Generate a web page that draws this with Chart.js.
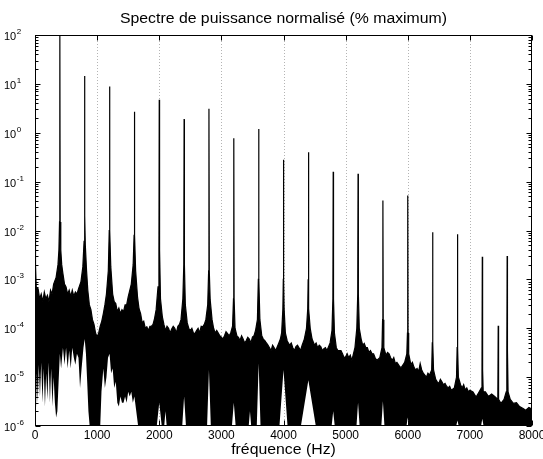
<!DOCTYPE html>
<html><head><meta charset="utf-8">
<script src="https://cdn.jsdelivr.net/npm/chart.js@4"></script>
<style>html,body{margin:0;padding:0;background:#fff}canvas{display:block}</style>
</head><body>
<canvas id="c" width="543" height="459"></canvas>
<script>
const chartTitle = "Spectre de puissance normalisé (% maximum)";
const xAxisLabel = "fréquence (Hz)";
const xTickValues = [0,1000,2000,3000,4000,5000,6000,7000,8000];
const yTickExponents = [2,1,0,-1,-2,-3,-4,-5,-6];

// harmonic peaks (Hz, % of maximum)
const harmonicHz  = [400,800,1200,1600,2000,2400,2800,3200,3600,4000,4400,4800,5200,5600,6000,6400,6800,7200,7456,7600];
const harmonicPct = [100,14.5,8.8,2.7,4.75,1.9,3.1,0.77,1.2,0.28,0.4,0.16,0.145,0.041,0.052,0.0092,0.0084,0.0029,0.000113,0.003];

// upper envelope of the dense spectrum (Hz, %)
const upperHz = [0,8,20,50,75,100,125,150,175,200,225,250,275,300,340,370,385,395,
405,415,430,450,475,500,525,550,575,600,625,650,675,700,740,770,790,797,
803,810,830,850,875,900,925,950,975,1000,1025,1050,1075,1100,1125,1150,1180,1195,
1205,1220,1250,1275,1300,1325,1350,1375,1400,1425,1450,1475,1500,1550,1580,1595,
1605,1620,1650,1675,1700,1725,1750,1775,1800,1825,1850,1875,1900,1925,1950,1980,1995,
2005,2020,2050,2075,2100,2125,2150,2175,2200,2225,2250,2275,2300,2325,2350,2380,2395,
2405,2420,2450,2475,2500,2525,2550,2575,2600,2625,2650,2675,2700,2725,2750,2780,2795,
2805,2820,2850,2875,2900,2925,2950,2975,3000,3025,3050,3075,3100,3125,3150,3180,3195,
3205,3220,3250,3275,3300,3325,3350,3375,3400,3425,3450,3475,3500,3525,3550,3580,3595,
3605,3620,3650,3675,3700,3725,3750,3775,3800,3825,3850,3875,3900,3925,3950,3970,3990,3997,
4003,4010,4030,4060,4100,4125,4150,4175,4200,4225,4250,4275,4300,4335,4370,4390,4397,
4403,4410,4430,4460,4500,4525,4550,4575,4600,4625,4650,4675,4700,4750,4780,4795,
4805,4820,4850,4875,4900,4925,4950,4975,5000,5025,5050,5075,5100,5150,5180,5195,
5205,5220,5250,5275,5300,5325,5350,5375,5400,5425,5450,5475,5500,5550,5585,5595,
5605,5615,5650,5675,5700,5725,5750,5775,5800,5825,5850,5875,5900,5950,5985,5995,
6005,6015,6050,6075,6100,6125,6150,6175,6200,6225,6250,6275,6300,6325,6350,6385,6395,
6405,6415,6450,6475,6500,6525,6550,6575,6600,6625,6650,6675,6700,6750,6785,6795,
6805,6815,6850,6875,6900,6925,6950,6975,7000,7050,7100,7150,7185,7195,
7205,7215,7250,7300,7350,7400,7450,
7462,7500,7550,7585,7595,
7605,7615,7650,7700,7750,7800,7850,7900,7950,8000];
const upperPct = [0.03,2e-3,7e-4,6.4e-4,4e-4,5e-4,3.5e-4,5.5e-4,4e-4,4.7e-4,3.5e-4,6e-4,5e-4,8e-4,1.1e-3,2e-3,4e-3,0.015,
0.015,4e-3,2e-3,1.3e-3,8e-4,7e-4,5e-4,6e-4,4.5e-4,6e-4,4.5e-4,5.5e-4,5e-4,6.4e-4,9e-4,1.8e-3,6e-3,0.02,
0.02,5e-3,1.5e-3,6e-4,3e-4,2.4e-4,1.5e-4,1.2e-4,8e-5,6.6e-5,8e-5,1.1e-4,1.4e-4,2e-4,3e-4,5e-4,1.5e-3,0.01,
0.01,1.8e-3,5e-4,3.5e-4,3.2e-4,2.2e-4,2.6e-4,2e-4,2.4e-4,2.2e-4,3e-4,3e-4,4.4e-4,8e-4,2e-3,8e-3,
8e-3,1.5e-3,4.4e-4,2.5e-4,2e-4,1.3e-4,1.4e-4,1e-4,1.07e-4,9e-5,1.1e-4,1.1e-4,1.2e-4,1.6e-4,2.4e-4,7e-4,4e-3,
4e-3,4e-4,1.7e-4,1.2e-4,9e-5,1.1e-4,1e-4,8e-5,9.6e-5,1.1e-4,1e-4,8e-5,1.1e-4,1.2e-4,1.5e-4,4e-4,2e-3,
2e-3,3e-4,1.3e-4,1e-4,9e-5,1e-4,8e-5,7.8e-5,9e-5,1e-4,8e-5,1.1e-4,1.07e-4,1.2e-4,1.5e-4,3e-4,1.5e-3,
1.5e-3,3.8e-4,1.5e-4,1e-4,8e-5,9e-5,8e-5,7e-5,6.6e-5,6e-5,7e-5,8.5e-5,7.8e-5,7e-5,8e-5,1.1e-4,4e-4,
4e-4,1e-4,7e-5,6.5e-5,5.6e-5,7e-5,6e-5,5e-5,5.6e-5,6.5e-5,6e-5,5e-5,6.6e-5,7e-5,9e-5,1.5e-4,1e-3,
1e-3,1.5e-4,7e-5,6e-5,5.6e-5,5e-5,4.5e-5,4e-5,3.5e-5,4.5e-5,4e-5,3.5e-5,4.2e-5,5e-5,6e-5,8e-5,2.5e-4,1e-3,
1e-3,2.5e-4,8e-5,5.5e-5,4.5e-5,5e-5,4e-5,3.5e-5,4.2e-5,4.5e-5,4e-5,3.5e-5,4.5e-5,6e-5,1e-4,2.5e-4,1e-3,
1e-3,2.5e-4,1e-4,6e-5,4.5e-5,5e-5,4e-5,4.5e-5,4.2e-5,3.5e-5,3.8e-5,4e-5,3.5e-5,5e-5,9e-5,4e-4,
4e-4,8e-5,4e-5,3.5e-5,3.5e-5,3.5e-5,3e-5,2.5e-5,2.6e-5,3e-5,2.5e-5,2.8e-5,2.2e-5,4e-5,1e-4,5e-4,
5e-4,1e-4,6e-5,4.5e-5,4.9e-5,4e-5,4e-5,3.2e-5,3.5e-5,3e-5,3e-5,2.5e-5,2.2e-5,2.5e-5,4e-5,1.5e-4,
1.5e-4,4e-5,2.8e-5,3.2e-5,3e-5,2.5e-5,2.2e-5,2.5e-5,1.9e-5,2e-5,1.8e-5,1.6e-5,1.6e-5,2e-5,3e-5,8e-5,
8e-5,3e-5,1.8e-5,2e-5,1.6e-5,1.4e-5,1.5e-5,1.3e-5,1.9e-5,1.4e-5,1.2e-5,1.1e-5,1e-5,1.2e-5,1.1e-5,1.4e-5,5e-5,
5e-5,1.4e-5,9e-6,8e-6,7.4e-6,9e-6,8e-6,7e-6,7.4e-6,6.5e-6,6e-6,6.5e-6,5.4e-6,6e-6,1e-5,4e-5,
4e-5,1e-5,7e-6,6e-6,7e-6,5.5e-6,6e-6,5e-6,5.4e-6,5e-6,3.9e-6,5e-6,6e-6,1.4e-5,
1.4e-5,5e-6,5e-6,4e-6,4.5e-6,4e-6,3.5e-6,
3.5e-6,2.9e-6,3.5e-6,5e-6,3.5e-5,
3.5e-5,5e-6,3.5e-6,2.9e-6,3e-6,2.5e-6,2.3e-6,2.1e-6,2.4e-6,2.2e-6];

// lower envelope of the dense spectrum (Hz, %)
const lowerHz = [0,15,30,45,60,80,100,120,140,160,180,200,220,240,260,280,300,320,340,360,380,
400,420,450,475,500,525,550,575,600,625,650,675,700,725,750,780,800,820,840,860,880,
1050,1070,1100,1125,1150,1175,1200,1225,1250,1275,1300,1325,1350,1375,1400,1425,1450,1475,1500,1525,1550,1575,1600,1630,1660,
1960,2000,2040,2080,2100,2120,2370,2400,2430,2770,2800,2830,3170,3200,3230,3440,3460,3480,3570,3600,3630,
3935,4000,4065,4280,4400,4520,4775,4800,4825,5175,5200,5225,5575,5600,5625,5980,6000,6020,
6780,6800,6820,7180,7200,7220,8000];
const lowerPct = [1.5e-6,2e-6,1.2e-5,3e-6,1.8e-5,4e-6,2e-5,3e-6,1.5e-5,2.5e-6,1.2e-5,3.5e-6,2e-5,3e-6,1.5e-5,2.5e-6,1e-5,3e-6,1.5e-6,2e-6,8e-6,
3e-5,1.5e-5,4e-5,1.8e-5,4e-5,1.5e-5,3.5e-5,1.5e-5,4e-5,2.5e-5,1.8e-5,3e-5,2.5e-5,6e-6,1.5e-5,4e-5,6e-5,3e-5,8e-6,2e-6,1e-6,
1e-6,5e-6,1.5e-5,6e-6,1e-5,2.5e-5,3e-5,1.2e-5,1.5e-5,6e-6,8e-6,3e-6,2.5e-6,4e-6,3e-6,3e-6,4e-6,3e-6,5e-6,4e-6,5e-6,3e-6,4e-6,2e-6,1e-6,
1e-6,3e-6,1e-6,1e-6,2e-6,1e-6,1e-6,4e-6,1e-6,1e-6,1.4e-5,1e-6,1e-6,3e-6,1e-6,1e-6,2e-6,1e-6,1e-6,1.9e-5,1e-6,
1e-6,1.4e-5,1e-6,1e-6,8.6e-6,1e-6,1e-6,2e-6,1e-6,1e-6,3e-6,1e-6,1e-6,3.2e-6,1e-6,1e-6,1.5e-6,1e-6,
1e-6,1.3e-6,1e-6,1e-6,1.4e-6,1e-6,1e-6];

function toPoints(xs, ys) { return xs.map((x, i) => ({x: x, y: ys[i]})); }
const upperPoints = toPoints(upperHz, upperPct).concat(toPoints(harmonicHz, harmonicPct)).sort((a, b) => a.x - b.x);
const lowerPoints = toPoints(lowerHz, lowerPct);

const FONT = '"Liberation Sans", Arial, Helvetica, sans-serif';

function wideText(ctx, text, cx, y, sx) {
  ctx.save();
  ctx.translate(cx, y);
  ctx.scale(sx, 1);
  ctx.textAlign = 'center';
  ctx.fillText(text, 0, 0);
  ctx.restore();
}

const framePlugin = {
  id: 'matlabFrame',
  beforeDatasetsDraw(chart) {
    const ctx = chart.ctx, xs = chart.scales.x, a = chart.chartArea;
    ctx.save();
    ctx.strokeStyle = '#b4b4b4';
    ctx.lineWidth = 1;
    ctx.setLineDash([1, 2]);
    xTickValues.slice(1, -1).forEach(v => {
      const px = Math.round(xs.getPixelForValue(v)) + 0.5;
      ctx.beginPath(); ctx.moveTo(px, a.top); ctx.lineTo(px, a.bottom); ctx.stroke();
    });
    ctx.restore();
  },
  afterDraw(chart) {
    const ctx = chart.ctx, xs = chart.scales.x, ys = chart.scales.y, a = chart.chartArea;
    const L = Math.round(a.left) + 0.5, R = Math.round(a.right) - 0.5;
    const T = Math.round(a.top) + 0.5, B = Math.round(a.bottom) - 0.5;
    ctx.save();
    ctx.strokeStyle = '#000';
    ctx.lineWidth = 1;
    ctx.setLineDash([]);
    ctx.strokeRect(L, T, R - L, B - T);
    ctx.beginPath();
    yTickExponents.forEach(e => {
      const py = Math.round(ys.getPixelForValue(Math.pow(10, e))) + 0.5;
      ctx.moveTo(L, py); ctx.lineTo(L + 5, py);
      ctx.moveTo(R, py); ctx.lineTo(R - 5, py);
      if (e < 2) {
        for (let k = 2; k <= 9; k++) {
          const pm = Math.round(ys.getPixelForValue(k * Math.pow(10, e))) + 0.5;
          ctx.moveTo(L, pm); ctx.lineTo(L + 3, pm);
          ctx.moveTo(R, pm); ctx.lineTo(R - 3, pm);
        }
      }
    });
    xTickValues.forEach(v => {
      const px = Math.round(xs.getPixelForValue(v)) + 0.5;
      ctx.moveTo(px, B); ctx.lineTo(px, B - 5);
      ctx.moveTo(px, T); ctx.lineTo(px, T + 5);
    });
    ctx.stroke();

    ctx.fillStyle = '#000';
    ctx.textBaseline = 'alphabetic';
    ctx.font = '12px ' + FONT;
    xTickValues.forEach(v => {
      wideText(ctx, String(v), xs.getPixelForValue(v), a.bottom + 13, 1.0);
    });
    yTickExponents.forEach(e => {
      const py = ys.getPixelForValue(Math.pow(10, e));
      ctx.textAlign = 'left';
      ctx.font = '11px ' + FONT;
      ctx.fillText('10', 4, py + 5);
      const w = ctx.measureText('10').width;
      ctx.font = '8px ' + FONT;
      ctx.fillText(String(e), 4 + w + 0.5, py - 1);
    });
    ctx.font = '14px ' + FONT;
    wideText(ctx, chartTitle, (a.left + a.right) / 2, 23, 1.13);
    wideText(ctx, xAxisLabel, (a.left + a.right) / 2, 454, 1.13);
    ctx.restore();
  }
};

new Chart(document.getElementById('c'), {
  type: 'scatter',
  data: {
    datasets: [
      { label: 'min', data: lowerPoints, showLine: true, borderWidth: 0, borderColor: 'rgba(0,0,0,0)',
        pointRadius: 0, fill: false },
      { label: 'spectre', data: upperPoints, showLine: true, borderWidth: 1.2, borderColor: '#000',
        backgroundColor: '#000', pointRadius: 0, fill: { target: 0 } }
    ]
  },
  options: {
    responsive: false,
    animation: false,
    devicePixelRatio: 1,
    layout: { padding: { left: 35, right: 11, top: 35, bottom: 33 } },
    elements: { line: { tension: 0 } },
    plugins: { legend: { display: false }, tooltip: { enabled: false }, title: { display: false } },
    scales: {
      x: { type: 'linear', min: 0, max: 8000, display: false },
      y: { type: 'logarithmic', min: 1e-6, max: 100, display: false }
    }
  },
  plugins: [framePlugin]
});
</script>
</body></html>
